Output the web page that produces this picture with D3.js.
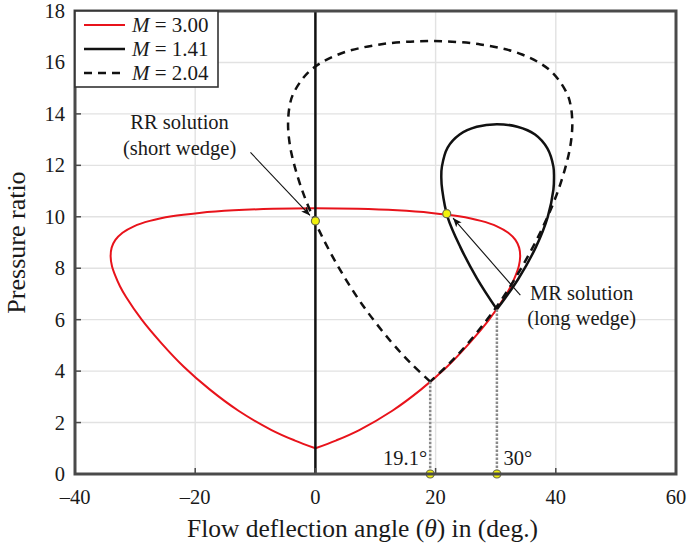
<!DOCTYPE html>
<html>
<head>
<meta charset="utf-8">
<script src="https://cdn.jsdelivr.net/npm/d3@7"></script>
<style>
  body { margin: 0; background: #fff; }
  svg text { font-family: "Liberation Serif", "Times New Roman", serif; fill: #1a1a1a; }
</style>
</head>
<body>
<svg id="chart" width="689" height="548"></svg>
<script>
// Values: [flow deflection angle (deg), pressure ratio]
// Incident polar, M = 3.00 (starts and ends at the cusp at p = 1)
const polar_m300 = [
  [0, 1], [3.5, 1.31], [7.3, 1.71], [12.8, 2.46], [17.6, 3.29], [21.9, 4.17],
  [25.6, 5.08], [28.9, 6.0], [31.5, 6.88], [32.52, 7.3], [33.3, 7.71], [33.86, 8.1],
  [34.07, 8.46], [33.9, 8.8], [33.28, 9.1], [32.09, 9.38], [30.2, 9.63], [27.55, 9.84],
  [23.9, 10.02], [19.3, 10.15], [13.6, 10.25], [7.05, 10.31], [0, 10.33],
  [-7.05, 10.31], [-13.6, 10.25], [-19.3, 10.15], [-23.9, 10.02], [-27.55, 9.84],
  [-30.2, 9.63], [-32.09, 9.38], [-33.28, 9.1], [-33.9, 8.8], [-34.07, 8.46],
  [-33.86, 8.1], [-33.3, 7.71], [-32.52, 7.3], [-31.5, 6.88], [-28.9, 6.0],
  [-25.6, 5.08], [-21.9, 4.17], [-17.6, 3.29], [-12.8, 2.46], [-7.3, 1.71],
  [-3.5, 1.31], [0, 1]
]

// Reflected polar, M = 1.41 (from the ~30 deg state)
const polar_m141 = [
  [30.2, 6.4], [26.9, 7.6], [24.1, 8.83], [22.0, 9.99], [21.1, 11.05], [20.95, 11.52],
  [21.05, 11.95], [22.0, 12.69], [24.0, 13.2], [26.85, 13.5], [30.2, 13.6],
  [33.6, 13.5], [36.55, 13.2], [38.6, 12.66], [39.6, 11.95], [39.7, 11.52],
  [39.6, 11.05], [38.65, 9.99], [36.7, 8.83], [33.8, 7.6], [30.2, 6.4]
]

// Reflected polar, M = 2.04 (from the 19.1 deg state)
const polar_m204 = [
  [19.1, 3.59], [15.9, 4.3], [12.6, 5.14], [7.75, 6.6], [3.66, 8.12], [0.29, 9.63],
  [-2.31, 11.1], [-3.99, 12.47], [-4.48, 13.24], [-4.54, 13.72], [-4.31, 14.28],
  [-3.67, 14.79], [-0.99, 15.66], [3.81, 16.31], [10.74, 16.7], [19.1, 16.83],
  [27.46, 16.7], [34.39, 16.31], [39.19, 15.66], [41.87, 14.79], [42.51, 14.28],
  [42.74, 13.72], [42.68, 13.24], [42.19, 12.47], [40.51, 11.1], [37.91, 9.63],
  [34.54, 8.12], [30.45, 6.6], [25.6, 5.14], [22.3, 4.3], [19.1, 3.59]
]

const wall_line = [[0, 0], [0, 18]]
const drop_lines = [[19.1, 3.59], [30.2, 6.4]]
const solution_points = [[0, 9.84], [21.85, 10.12], [19.1, 0], [30.2, 0]]

const x_ticks = [-40, -20, 0, 20, 40, 60]
const y_ticks = [0, 2, 4, 6, 8, 10, 12, 14, 16, 18]
const legend_labels = ['3.00', '1.41', '2.04']
const angle_labels = ['19.1°', '30°']

// ---- layout ----
const svg = d3.select('#chart')
const margin = {top: 11, right: 13, bottom: 74, left: 75}
const width = 689 - margin.left - margin.right
const height = 548 - margin.top - margin.bottom

const x = d3.scaleLinear().domain([-40, 60]).range([0, width])
const y = d3.scaleLinear().domain([0, 18]).range([height, 0])

const line_gen = d3.line()
  .x(d => x(d[0]))
  .y(d => y(d[1]))

const smooth_line = d3.line()
  .x(d => x(d[0]))
  .y(d => y(d[1]))
  .curve(d3.curveCatmullRom.alpha(0.5))

const colors = {
  red: '#e8131b',
  black: '#111111',
  frame: '#4a4a4a',
  grid: '#e2e2e2'
}

// arrow marker
svg.append('defs')
  .append('marker')
  .attr('id', 'arrow-head')
  .attr('viewBox', '0 0 10 10')
  .attr('refX', 10)
  .attr('refY', 5)
  .attr('markerWidth', 9)
  .attr('markerHeight', 9)
  .attr('markerUnits', 'userSpaceOnUse')
  .attr('orient', 'auto')
  .append('path')
  .attr('d', 'M0,1 L10,5 L0,9 L2.5,5 Z')
  .style('fill', '#111')

const g = svg.append('g')
  .attr('transform', `translate(${margin.left},${margin.top})`)

// Grid lines
g.append('g')
  .selectAll('line.vgrid')
  .data(x_ticks)
  .join('line')
  .attr('x1', d => x(d)).attr('x2', d => x(d))
  .attr('y1', 0).attr('y2', height)
  .style('stroke', colors.grid)
  .style('stroke-width', 1.4)

g.append('g')
  .selectAll('line.hgrid')
  .data(y_ticks)
  .join('line')
  .attr('x1', 0).attr('x2', width)
  .attr('y1', d => y(d)).attr('y2', d => y(d))
  .style('stroke', colors.grid)
  .style('stroke-width', 1.4)

// Curves
g.append('path')
  .datum(polar_m300)
  .attr('d', smooth_line)
  .style('fill', 'none')
  .style('stroke', colors.red)
  .style('stroke-width', 2)

g.append('path')
  .datum(wall_line)
  .attr('d', line_gen)
  .style('fill', 'none')
  .style('stroke', colors.black)
  .style('stroke-width', 2.5)

g.append('path')
  .datum(polar_m141)
  .attr('d', smooth_line)
  .style('fill', 'none')
  .style('stroke', colors.black)
  .style('stroke-width', 2.5)

g.append('path')
  .datum(polar_m204)
  .attr('d', smooth_line)
  .style('fill', 'none')
  .style('stroke', colors.black)
  .style('stroke-width', 2.5)
  .style('stroke-dasharray', '8,6')

// Dotted drops to the axis
g.append('g')
  .selectAll('line')
  .data(drop_lines)
  .join('line')
  .attr('x1', d => x(d[0])).attr('x2', d => x(d[0]))
  .attr('y1', d => y(d[1])).attr('y2', y(0))
  .style('stroke', '#8a8a8a')
  .style('stroke-width', 2.5)
  .style('stroke-dasharray', '2.5,1.5')

// Annotation arrows (data coords)
const arrows = [
  {from: [-10.8, 12.5], to: [-0.9, 10.05]},
  {from: [34.1, 6.95], to: [22.9, 9.95]}
]
g.append('g')
  .selectAll('line')
  .data(arrows)
  .join('line')
  .attr('x1', d => x(d.from[0])).attr('y1', d => y(d.from[1]))
  .attr('x2', d => x(d.to[0])).attr('y2', d => y(d.to[1]))
  .style('stroke', '#111')
  .style('stroke-width', 1.1)
  .attr('marker-end', 'url(#arrow-head)')

// Solution points
g.append('g')
  .selectAll('circle')
  .data(solution_points)
  .join('circle')
  .attr('cx', d => x(d[0]))
  .attr('cy', d => y(d[1]))
  .attr('r', 4)
  .style('fill', '#f2f20a')
  .style('stroke', '#6b6b4a')
  .style('stroke-width', 1.2)

// Annotation texts
let rr_text = g.append('text')
  .attr('text-anchor', 'middle')
  .style('font-size', '20.5px')
rr_text.append('tspan').attr('x', x(-22.6)).attr('y', y(13.4)).text('RR solution')
rr_text.append('tspan').attr('x', x(-22.6)).attr('y', y(12.42)).text('(short wedge)')

let mr_text = g.append('text')
  .attr('text-anchor', 'middle')
  .style('font-size', '20.5px')
mr_text.append('tspan').attr('x', x(44.3)).attr('y', y(6.78)).text('MR solution')
mr_text.append('tspan').attr('x', x(44.3)).attr('y', y(5.78)).text('(long wedge)')

g.append('text')
  .attr('x', x(18.6))
  .attr('y', y(0.35))
  .attr('text-anchor', 'end')
  .style('font-size', '20.5px')
  .text(angle_labels[0])

g.append('text')
  .attr('x', x(31.3))
  .attr('y', y(0.35))
  .attr('text-anchor', 'start')
  .style('font-size', '20.5px')
  .text(angle_labels[1])

// Frame
g.append('rect')
  .attr('x', 0).attr('y', 0)
  .attr('width', width).attr('height', height)
  .style('fill', 'none')
  .style('stroke', colors.frame)
  .style('stroke-width', 3)

// Tick marks (inward) + labels
g.append('g')
  .selectAll('line')
  .data(x_ticks)
  .join('line')
  .attr('x1', d => x(d)).attr('x2', d => x(d))
  .attr('y1', height).attr('y2', height - 6)
  .style('stroke', colors.frame)
  .style('stroke-width', 1.5)

g.append('g')
  .selectAll('line')
  .data(y_ticks)
  .join('line')
  .attr('x1', 0).attr('x2', 6)
  .attr('y1', d => y(d)).attr('y2', d => y(d))
  .style('stroke', colors.frame)
  .style('stroke-width', 1.5)

g.append('g')
  .selectAll('text')
  .data(x_ticks)
  .join('text')
  .attr('x', d => x(d))
  .attr('y', height + 30)
  .attr('text-anchor', 'middle')
  .style('font-size', '20.5px')
  .text(d => d < 0 ? '\u2013' + Math.abs(d) : d)

g.append('g')
  .selectAll('text')
  .data(y_ticks)
  .join('text')
  .attr('x', -10)
  .attr('y', d => y(d))
  .attr('dy', '0.34em')
  .attr('text-anchor', 'end')
  .style('font-size', '20.5px')
  .text(d => d)

// Axis titles
g.append('text')
  .attr('x', width / 2 - 13)
  .attr('y', height + 63)
  .attr('text-anchor', 'middle')
  .style('font-size', '25.5px')
  .html('Flow deflection angle (<tspan font-style="italic">θ</tspan>) in (deg.)')

g.append('text')
  .attr('transform', `translate(${-50},${height / 2}) rotate(-90)`)
  .attr('text-anchor', 'middle')
  .style('font-size', '26px')
  .text('Pressure ratio')

// Legend
let legend = g.append('g')
legend.append('rect')
  .attr('x', 0).attr('y', 0)
  .attr('width', 143).attr('height', 76)
  .style('fill', 'white')
  .style('stroke', '#333')
  .style('stroke-width', 1.6)

const legend_styles = [
  {color: colors.red, dash: null, w: 2},
  {color: colors.black, dash: null, w: 2.5},
  {color: colors.black, dash: '8,6', w: 2.5}
]
legend_labels.forEach(function(lab, i) {
  let row_y = 14 + i * 24
  legend.append('line')
    .attr('x1', 9).attr('x2', 50)
    .attr('y1', row_y).attr('y2', row_y)
    .style('stroke', legend_styles[i].color)
    .style('stroke-width', legend_styles[i].w)
    .style('stroke-dasharray', legend_styles[i].dash)
  let t = legend.append('text')
    .attr('x', 57)
    .attr('y', row_y)
    .attr('dy', '0.34em')
    .style('font-size', '21px')
  t.append('tspan').style('font-style', 'italic').text('M')
  t.append('tspan').text(' = ' + lab)
})
</script>
</body>
</html>
